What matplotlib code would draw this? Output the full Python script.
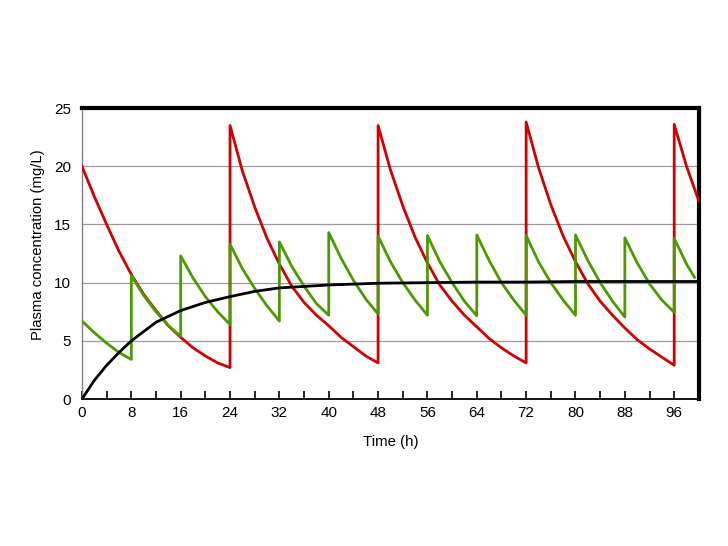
import matplotlib
matplotlib.use("Agg")
import matplotlib.pyplot as plt
from matplotlib.ticker import MultipleLocator

# ---- data ----
# Red: 24-hourly dosing (time, concentration)
red_t = [0, 2, 4, 6, 8, 10, 12, 14, 16, 18, 20, 22, 24,
         24, 26, 28, 30, 32, 34, 36, 38, 40, 42, 44, 46, 48,
         48, 50, 52, 54, 56, 58, 60, 62, 64, 66, 68, 70, 72,
         72, 74, 76, 78, 80, 82, 84, 86, 88, 90, 92, 94, 96,
         96, 98, 100]
red_c = [20.0, 17.4, 15.0, 12.7, 10.7, 9.0, 7.6, 6.3, 5.3, 4.4, 3.7, 3.1, 2.7,
         23.5, 19.6, 16.5, 13.8, 11.6, 9.7, 8.3, 7.2, 6.3, 5.3, 4.5, 3.7, 3.1,
         23.5, 19.7, 16.6, 13.9, 11.7, 9.8, 8.4, 7.2, 6.2, 5.2, 4.4, 3.7, 3.1,
         23.8, 19.9, 16.7, 14.0, 11.8, 9.9, 8.4, 7.2, 6.1, 5.1, 4.3, 3.6, 2.9,
         23.6, 20.0, 17.0]

# Green: 8-hourly dosing
green_t = [0, 2, 4, 6, 8,
           8, 10, 12, 14, 16,
           16, 18, 20, 22, 24,
           24, 26, 28, 30, 32,
           32, 34, 36, 38, 40,
           40, 42, 44, 46, 48,
           48, 50, 52, 54, 56,
           56, 58, 60, 62, 64,
           64, 66, 68, 70, 72,
           72, 74, 76, 78, 80,
           80, 82, 84, 86, 88,
           88, 90, 92, 94, 96,
           96, 98, 99.3]
green_c = [6.7, 5.7, 4.8, 4.0, 3.4,
           10.6, 8.9, 7.5, 6.3, 5.4,
           12.3, 10.4, 8.8, 7.5, 6.4,
           13.3, 11.2, 9.5, 8.0, 6.7,
           13.5, 11.4, 9.7, 8.2, 7.2,
           14.3, 12.1, 10.2, 8.6, 7.3,
           14.0, 11.8, 10.0, 8.5, 7.2,
           14.05, 11.8, 10.0, 8.4, 7.15,
           14.1, 11.9, 10.0, 8.5, 7.2,
           14.05, 11.8, 10.0, 8.5, 7.2,
           14.1, 11.9, 10.0, 8.4, 7.05,
           13.85, 11.7, 9.9, 8.5, 7.45,
           13.8, 11.6, 10.45]

# Black: continuous infusion
black_t = [0, 2, 4, 6, 8, 10, 12, 14, 16, 20, 24, 28, 32, 40, 48, 56, 64, 72, 80, 88, 100]
black_c = [0.0, 1.6, 2.9, 4.0, 5.0, 5.8, 6.6, 7.1, 7.6, 8.3, 8.8, 9.25, 9.55, 9.8, 9.95,
           10.0, 10.05, 10.05, 10.1, 10.1, 10.1]

x_major = [0, 8, 16, 24, 32, 40, 48, 56, 64, 72, 80, 88, 96]
y_ticks = [0, 5, 10, 15, 20, 25]

plt.rcParams['font.family'] = ['Liberation Sans', 'DejaVu Sans']

fig = plt.figure(figsize=(7.28, 5.46), dpi=100)
ax = fig.add_axes([0.1126, 0.2692, 0.960 - 0.1126, 0.802 - 0.2692])

for y in [5, 10, 15, 20]:
    ax.axhline(y, color='#9a9a9a', lw=0.9, zorder=1)

ax.plot(red_t, red_c, color='#d00000', lw=2.0, zorder=3)
ax.plot(green_t, green_c, color='#4c9a00', lw=2.0, zorder=4)
ax.plot(black_t, black_c, color='black', lw=2.0, zorder=5)

ax.set_xlim(0, 100)
ax.set_ylim(0, 25)

ax.set_xticks(x_major)
ax.set_xticklabels([str(v) for v in x_major], fontsize=11)
ax.xaxis.set_minor_locator(MultipleLocator(4))
ax.tick_params(axis='x', which='both', direction='in', length=6, width=1.2, color='black', pad=5)
ax.set_yticks(y_ticks)
ax.set_yticklabels([str(v) for v in y_ticks], fontsize=11)
ax.tick_params(axis='y', length=0, pad=8)

ax.spines['top'].set_linewidth(3)
ax.spines['top'].set_color('black')
ax.spines['right'].set_linewidth(3)
ax.spines['right'].set_color('black')
ax.spines['left'].set_linewidth(1)
ax.spines['left'].set_color('#808080')
ax.spines['bottom'].set_linewidth(1.3)
ax.spines['bottom'].set_color('black')

ax.set_xlabel('Time (h)', fontsize=10.8, labelpad=11)
ax.set_ylabel('Plasma concentration (mg/L)', fontsize=10.7, labelpad=6)
ax.yaxis.set_label_coords(-0.06, 0.53)

fig.savefig('out.png', dpi=100, facecolor='white')
